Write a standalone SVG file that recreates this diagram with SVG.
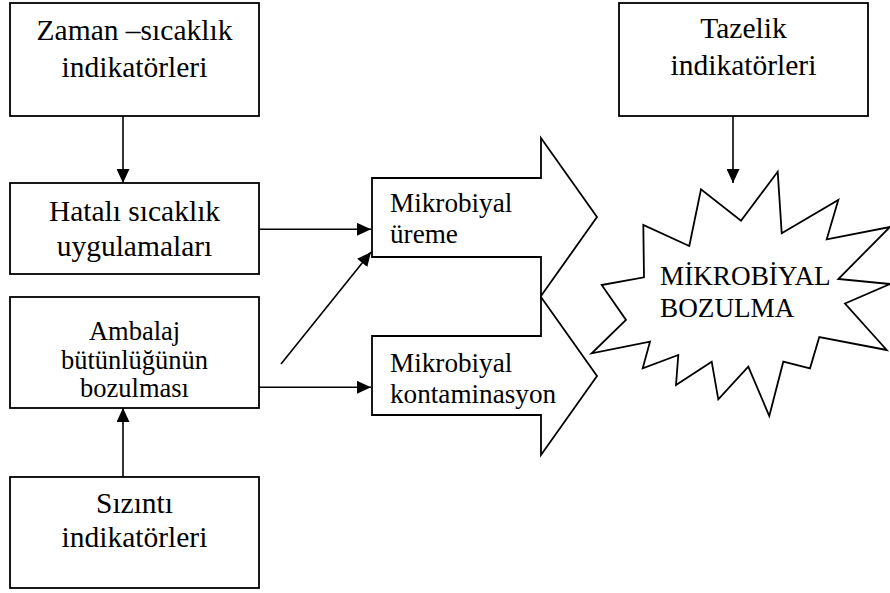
<svg xmlns="http://www.w3.org/2000/svg" width="890" height="593" viewBox="0 0 890 593">
<style>
.box{fill:#fff;stroke:#000;stroke-width:1.8}
text{font-family:'Liberation Serif','Times New Roman',serif;fill:#000}
.t{text-anchor:middle}
.b{font-size:29.5px}
.s{font-size:26.5px}
.a{font-size:27.2px}
.l{text-anchor:start}
.c{fill:none;stroke:#000;stroke-width:1.6}
</style>
<defs>
<marker id="ah" markerUnits="userSpaceOnUse" markerWidth="14" markerHeight="13" refX="14" refY="6.5" orient="auto">
<path d="M0,0 L14,6.5 L0,13 Z" fill="#000"/>
</marker>
</defs>
<rect width="890" height="593" fill="#fff"/>
<g id="zaman">
<rect class="box" x="10" y="3" width="249" height="113"/>
<text class="t b" x="134.5" y="40" font-family="Liberation Serif, serif">Zaman –sıcaklık</text>
<text class="t b" x="134.5" y="77" font-family="Liberation Serif, serif">indikatörleri</text>
</g>
<g id="hatali">
<rect class="box" x="10" y="183" width="249" height="91"/>
<text class="t b" x="134.5" y="221" font-family="Liberation Serif, serif">Hatalı sıcaklık</text>
<text class="t b" x="134.5" y="256" font-family="Liberation Serif, serif">uygulamaları</text>
</g>
<g id="ambalaj">
<rect class="box" x="10" y="297" width="249" height="111"/>
<text class="t s" x="134.5" y="340" font-family="Liberation Serif, serif">Ambalaj</text>
<text class="t s" x="134.5" y="369" font-family="Liberation Serif, serif">bütünlüğünün</text>
<text class="t s" x="134.5" y="397" font-family="Liberation Serif, serif">bozulması</text>
</g>
<g id="sizinti">
<rect class="box" x="10" y="477" width="249" height="111"/>
<text class="t b" x="134.5" y="513" font-family="Liberation Serif, serif">Sızıntı</text>
<text class="t b" x="134.5" y="547" font-family="Liberation Serif, serif">indikatörleri</text>
</g>
<g id="tazelik">
<rect class="box" x="619" y="3" width="249" height="113"/>
<text class="t b" x="743.5" y="38" font-family="Liberation Serif, serif">Tazelik</text>
<text class="t b" x="743.5" y="75" font-family="Liberation Serif, serif">indikatörleri</text>
</g>
<g id="ureme">
<polygon class="box" points="372,178 541,178 541,138 597,217 541,296 541,257 372,257"/>
<text class="a l" x="390" y="212" font-family="Liberation Serif, serif">Mikrobiyal</text>
<text class="a l" x="390" y="243" font-family="Liberation Serif, serif">üreme</text>
</g>
<g id="kontaminasyon">
<polygon class="box" points="372,336 541,336 541,297 597,376 541,455 541,415 372,415"/>
<text class="a l" x="390" y="372" font-family="Liberation Serif, serif">Mikrobiyal</text>
<text class="a l" x="390" y="403" font-family="Liberation Serif, serif">kontaminasyon</text>
</g>
<g id="bozulma">
<polygon class="box" points="777.7,171.7 781.7,233.3 838.3,200 826.7,239.3 890,227 838.3,279 890,284 845,303.5 886.7,350 819.3,337 810,368.3 783.3,361.7 769.3,416 748.3,366.7 718.3,399.3 711.7,361.7 676,385 678.3,355 642.7,368.3 650,341.7 591.7,353.3 626,320 601.7,285 644,277.3 643.3,225 689.3,246 701,189.3 741,220.7"/>
<text class="a l" x="660" y="285" font-family="Liberation Serif, serif">MİKROBİYAL</text>
<text class="a l" x="660" y="317" font-family="Liberation Serif, serif">BOZULMA</text>
</g>
<g id="connectors">
<line class="c" x1="123" y1="116" x2="123" y2="183" marker-end="url(#ah)"/>
<line class="c" x1="123" y1="477" x2="123" y2="408" marker-end="url(#ah)"/>
<line class="c" x1="259" y1="229.3" x2="371" y2="229.3" marker-end="url(#ah)"/>
<line class="c" x1="259" y1="387.3" x2="371" y2="387.3" marker-end="url(#ah)"/>
<line class="c" x1="281" y1="364" x2="371" y2="252" marker-end="url(#ah)"/>
<line class="c" x1="733" y1="116" x2="733" y2="183" marker-end="url(#ah)"/>
</g>
</svg>
